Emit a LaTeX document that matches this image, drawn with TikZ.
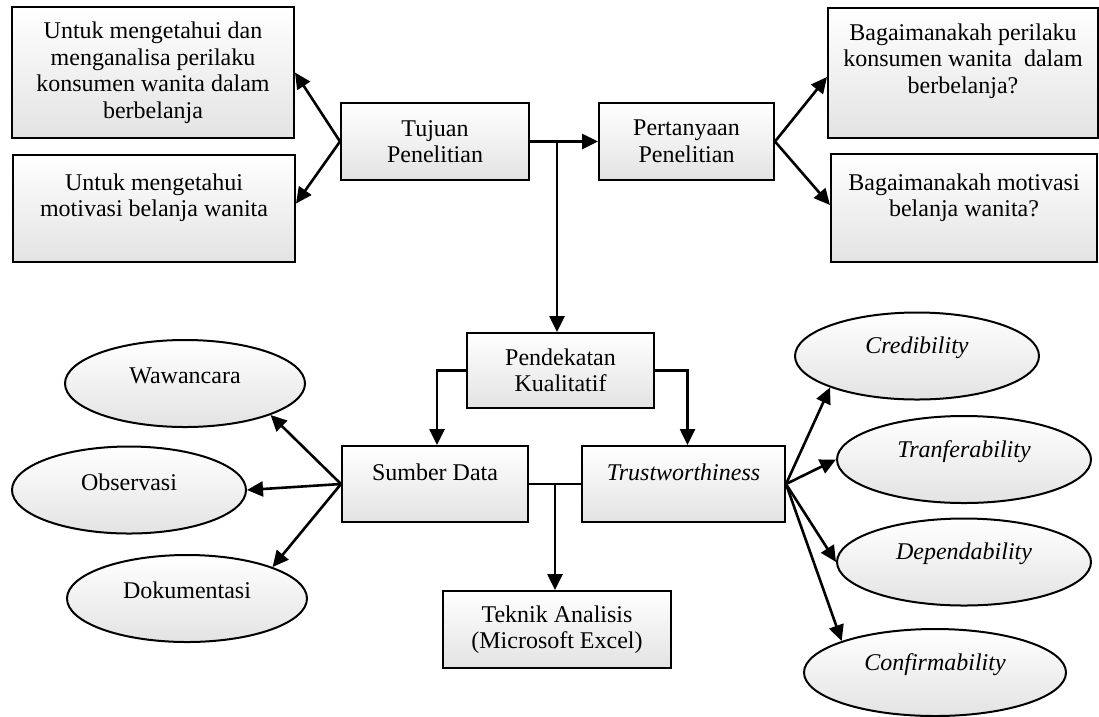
\documentclass[tikz,border=0pt]{standalone}
\usepackage{fontspec}
\setmainfont{Liberation Serif}
\usetikzlibrary{arrows.meta,shapes.geometric,calc}

\begin{document}
\begin{tikzpicture}[x=1pt,y=-1pt,font=\fontsize{24}{26.5}\selectfont,
    box/.style={draw,line width=2pt,top color=white,bottom color=black!11,
      align=center,inner sep=0pt},
    oval/.style={ellipse,draw,line width=2pt,top color=white,
      bottom color=black!11,inner sep=0pt,minimum height=87pt},
    lift/.style={text depth=#1},
    arr/.style={line width=2.6pt,-{Triangle[length=16pt,width=15pt]}}]
  \useasboundingbox (0,0) rectangle (1099,716);
  % baris atas
  \node[box,minimum width=282pt,minimum height=131pt] (tujuanA) at (153,72.5)
    {Untuk mengetahui dan\\menganalisa perilaku\\konsumen wanita dalam\\berbelanja};
  \node[box,lift=27pt,minimum width=282pt,minimum height=107pt] (tujuanB) at (154,208.5)
    {Untuk mengetahui\\motivasi belanja wanita};
  \node[box,minimum width=188pt,minimum height=77pt] (tujuan) at (435,141.5)
    {Tujuan\\Penelitian};
  \node[box,minimum width=175pt,minimum height=77pt] (tanya) at (686.5,141.5)
    {Pertanyaan\\Penelitian};
  \node[box,lift=29pt,minimum width=270pt,minimum height=130pt] (tanyaA) at (963,73)
    {Bagaimanakah perilaku\\konsumen wanita~ dalam\\berbelanja?};
  \node[box,lift=26pt,minimum width=266pt,minimum height=108pt] (tanyaB) at (964,208)
    {Bagaimanakah motivasi\\belanja wanita?};
  % tengah
  \node[box,minimum width=187pt,minimum height=75pt] (pendekatan) at (560.5,370.5)
    {Pendekatan\\Kualitatif};
  \node[box,lift=24pt,minimum width=186pt,minimum height=76pt] (sumber) at (435,484)
    {Sumber Data};
  \node[box,lift=24pt,minimum width=203pt,minimum height=76pt] (trust) at (683.5,484)
    {\itshape Trustworthiness};
  \node[box,minimum width=228pt,minimum height=77pt] (teknik) at (557,629.5)
    {Teknik Analisis\\(Microsoft Excel)};
  % elips
  \foreach \nm/\cx/\cy/\w/\txt in {
      wawancara/185/383.5/240/Wawancara,
      observasi/129/490/234/Observasi,
      dokumentasi/187/598.5/240/Dokumentasi}
    \node[oval,lift=16pt,minimum width=\w pt] (\nm) at (\cx,\cy) {\txt};
  \foreach \nm/\cx/\cy/\w/\txt in {
      credibility/917/356/244/Credibility,
      tranfer/964/459.5/254/Tranferability,
      depend/964/562/254/Dependability,
      confirm/935/672.5/262/Confirmability}
    \node[oval,lift=21pt,minimum width=\w pt] (\nm) at (\cx,\cy) {\itshape\txt};

  \coordinate (pisah) at (557,141.5);
  \coordinate (gabung) at ($(sumber.east)!0.5!(trust.west)$);
  \draw[arr] (tujuan.west) -- (tujuanA.east);
  \draw[arr] (tujuan.west) -- ([yshift=5pt]tujuanB.east);
  \draw[arr] (tujuan.east) -- (tanya.west);
  \draw[arr] (tanya.east) -- ([yshift=-4pt]tanyaA.west);
  \draw[arr] (tanya.east) -- ([yshift=3pt]tanyaB.west);
  \draw[arr] (pisah) -- (pisah |- pendekatan.north);
  \draw[arr] (pendekatan.west) -| ([xshift=2pt]sumber.north);
  \draw[arr] (pendekatan.east) -| ([xshift=4pt]trust.north);
  \draw[line width=2.6pt] (sumber.east) -- (trust.west);
  \draw[arr] (gabung) -- (gabung |- teknik.north);
  \draw[arr] (sumber.west) -- (wawancara.south east);
  \draw[arr] (sumber.west) -- (observasi.east);
  \draw[arr] (sumber.west) -- (dokumentasi.north east);
  \draw[arr] (trust.east) -- (credibility.south west);
  \draw[arr] (trust.east) -- (tranfer.west);
  \draw[arr] (trust.east) -- (depend.west);
  \draw[arr] (trust.east) -- (confirm.north west);
\end{tikzpicture}
\end{document}
